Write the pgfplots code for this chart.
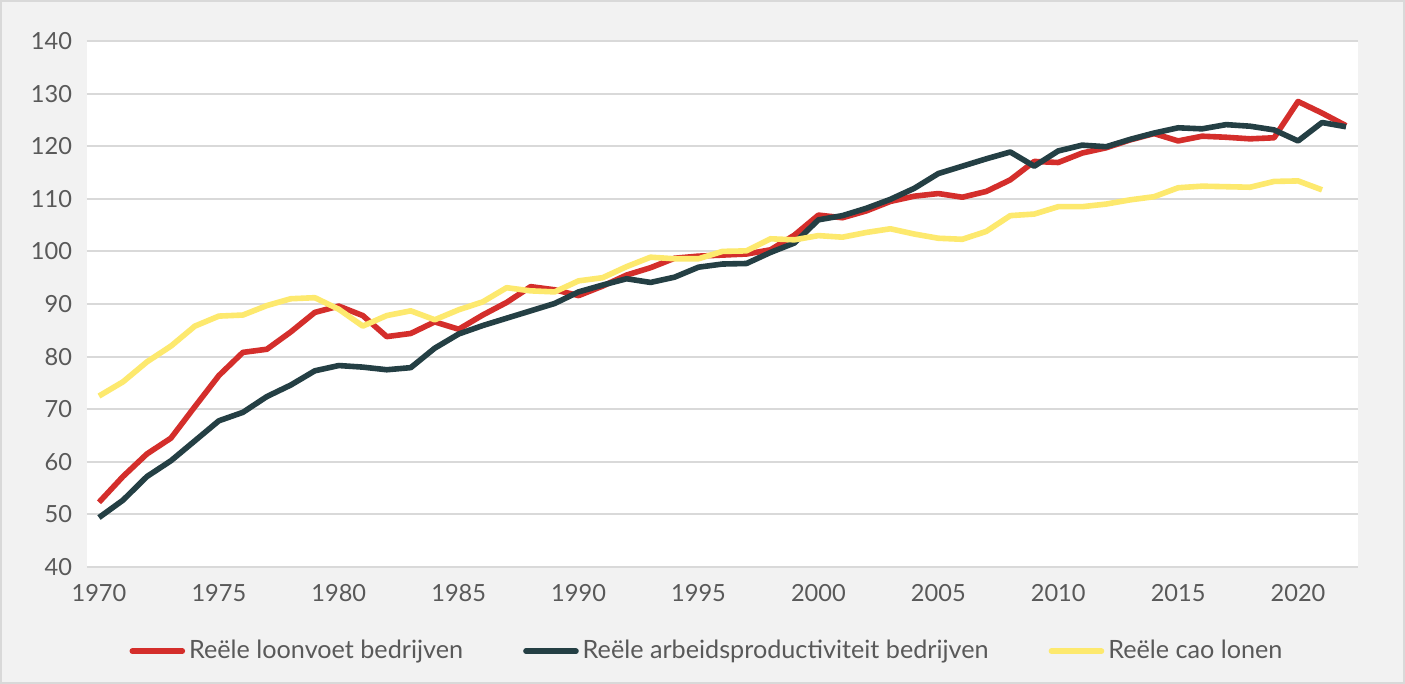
\documentclass[border=0pt]{standalone}
\usepackage{pgfplots}
\pgfplotsset{compat=1.18}
\usepackage{pgfplotstable}
\usepackage{fontspec}
\setmainfont{Lato}
\definecolor{cRed}{HTML}{D42E2B}
\definecolor{cDark}{HTML}{243F44}
\definecolor{cYel}{HTML}{FDE96E}
\definecolor{cBg}{HTML}{F2F2F2}
\definecolor{cGrid}{HTML}{D9D9D9}
\definecolor{cTxt}{HTML}{595959}

% year, loonvoet, arbeidsproductiviteit, cao
\pgfplotstableread{
year red dark yel
1970 52.3 49.4 72.5
1971 57.2 52.7 75.2
1972 61.5 57.2 79.0
1973 64.5 60.2 82.0
1974 70.5 64.0 85.8
1975 76.4 67.8 87.7
1976 80.8 69.4 87.9
1977 81.4 72.4 89.7
1978 84.7 74.6 91.0
1979 88.4 77.3 91.2
1980 89.6 78.3 89.0
1981 87.8 78.0 85.8
1982 83.8 77.5 87.8
1983 84.4 77.9 88.7
1984 86.6 81.6 87.0
1985 85.2 84.3 88.9
1986 87.9 85.9 90.4
1987 90.3 87.3 93.1
1988 93.3 88.7 92.5
1989 92.7 90.1 92.3
1990 91.6 92.3 94.4
1991 93.4 93.6 95.0
1992 95.5 94.8 97.1
1993 96.9 94.1 98.9
1994 98.7 95.1 98.6
1995 99.1 97.0 98.6
1996 99.3 97.6 100.0
1997 99.5 97.7 100.1
1998 100.3 99.8 102.4
1999 103.1 101.6 102.2
2000 106.9 106.0 103.0
2001 106.4 106.8 102.7
2002 107.7 108.2 103.6
2003 109.5 109.9 104.3
2004 110.5 112.0 103.3
2005 111.0 114.8 102.5
2006 110.3 116.2 102.3
2007 111.4 117.6 103.8
2008 113.6 118.9 106.8
2009 117.1 116.2 107.1
2010 116.9 119.1 108.5
2011 118.7 120.2 108.5
2012 119.7 119.9 109.0
2013 121.2 121.3 109.8
2014 122.4 122.5 110.4
2015 121.0 123.5 112.1
2016 121.9 123.3 112.4
2017 121.7 124.1 112.3
2018 121.4 123.8 112.2
2019 121.6 123.1 113.3
2020 128.5 121.0 113.4
2021 126.3 124.5 111.7
2022 123.9 123.7 nan
}\data

\begin{document}
\begin{tikzpicture}
  % outer frame and background
  \fill[cBg] (-43.5bp,-58.5bp) rectangle (659bp,283.5bp);
  \draw[cGrid, line width=0.8bp] (-43.1bp,-58.1bp) rectangle (658.6bp,283.1bp);
  \begin{axis}[
      at={(0,0)}, anchor=south west,
      scale only axis,
      width=635.5bp, height=263bp,
      xmin=1969.5, xmax=2022.5,
      ymin=40, ymax=140,
      axis line style={draw=none},
      axis background/.style={fill=white},
      major tick length=0pt,
      xtick={1970,1975,...,2020},
      ytick={40,50,...,140},
      ymajorgrids,
      grid style={cGrid, line width=1bp},
      x tick label style={/pgf/number format/1000 sep={}},
      /pgf/number format/assume math mode=true,
      tick label style={font=\fontsize{11.8bp}{13bp}\selectfont, text=cTxt},
      xticklabel style={yshift=-5bp},
      yticklabel style={xshift=-4bp},
      legend columns=3,
      legend style={at={(0.4886,-0.16)}, anchor=center, draw=none, fill=none,
        font=\fontsize{12.6bp}{14bp}\selectfont, text=cTxt,
        /tikz/every even column/.append style={column sep=28bp},
        inner xsep=1bp},
      legend image code/.code={\draw[#1, line cap=round] (0bp,0bp) -- (25bp,0bp);},
      every axis plot/.append style={line width=2.8bp, line join=round},
      unbounded coords=jump,
    ]
    \addplot[cRed] table[x=year, y=red] {\data};
    \addlegendentry{Reële loonvoet bedrijven}
    \addplot[cDark] table[x=year, y=dark] {\data};
    \addlegendentry{Reële arbeidsproductiviteit bedrijven}
    \addplot[cYel] table[x=year, y=yel] {\data};
    \addlegendentry{Reële cao lonen}
  \end{axis}
\end{tikzpicture}
\end{document}
